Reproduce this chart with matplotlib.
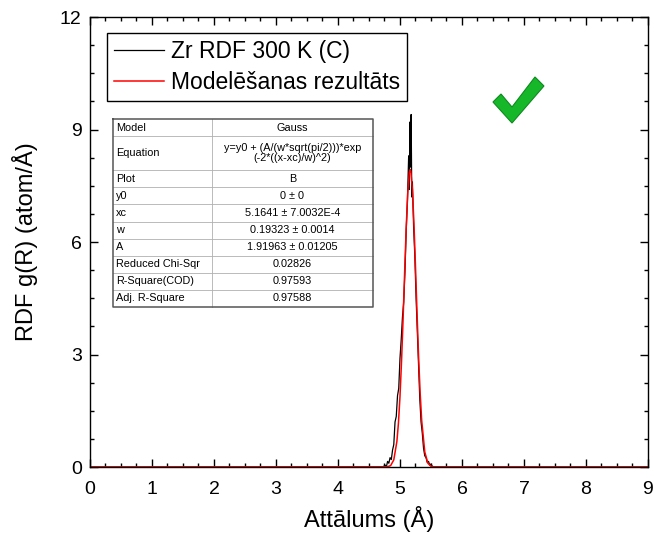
import matplotlib.pyplot as plt
from matplotlib.patches import Polygon
from matplotlib.ticker import MultipleLocator

plt.rcParams['font.family'] = ['Liberation Sans', 'DejaVu Sans']

# RDF data (x in Å, g(R))
rdf_x = [0.0, 4.70, 4.72, 4.74, 4.76, 4.78, 4.80, 4.82, 4.84, 4.86, 4.88, 4.90,
         4.92, 4.94, 4.96, 4.98, 5.00, 5.02, 5.04, 5.06, 5.08, 5.10, 5.12, 5.14,
         5.15, 5.16, 5.17, 5.18, 5.19, 5.20, 5.22, 5.24, 5.26, 5.28, 5.30, 5.32,
         5.34, 5.36, 5.38, 5.40, 5.42, 5.44, 5.46, 5.48, 5.50, 5.52, 5.55, 9.0]
rdf_y = [0.0, 0.0, 0.0, 0.02, 0.05, 0.0, 0.15, 0.10, 0.25, 0.20, 0.45, 0.60,
         1.20, 1.35, 1.90, 2.10, 2.90, 3.40, 4.00, 4.40, 5.20, 6.30, 7.10, 8.30,
         7.40, 9.20, 8.00, 9.40, 7.20, 7.60, 6.40, 5.60, 4.50, 3.60, 2.70, 1.80,
         1.20, 0.90, 0.50, 0.30, 0.25, 0.12, 0.15, 0.05, 0.08, 0.02, 0.0, 0.0]

# fitted curve
fit_x = [0.0, 4.80, 4.85, 4.90, 4.95, 4.975, 5.00, 5.025, 5.05, 5.075, 5.10,
         5.125, 5.15, 5.164, 5.175, 5.20, 5.225, 5.25, 5.275, 5.30, 5.325,
         5.35, 5.40, 5.45, 5.50, 5.55, 9.0]
fit_y = [0.0, 0.007, 0.04, 0.19, 0.68, 1.17, 1.88, 2.82, 3.95, 5.19, 6.37,
         7.31, 7.85, 7.93, 7.88, 7.40, 6.50, 5.34, 4.10, 2.94, 1.98,
         1.24, 0.40, 0.10, 0.02, 0.003, 0.0]

table_rows = [
    ('Model', 'Gauss'),
    ('Equation', 'y=y0 + (A/(w*sqrt(pi/2)))*exp\n(-2*((x-xc)/w)^2)'),
    ('Plot', 'B'),
    ('y0', '0 ± 0'),
    ('xc', '5.1641 ± 7.0032E-4'),
    ('w', '0.19323 ± 0.0014'),
    ('A', '1.91963 ± 0.01205'),
    ('Reduced Chi-Sqr', '0.02826'),
    ('R-Square(COD)', '0.97593'),
    ('Adj. R-Square', '0.97588'),
]
row_units = [1, 2, 1, 1, 1, 1, 1, 1, 1, 1]

fig = plt.figure(figsize=(6.54, 5.33), dpi=100)
ax = fig.add_axes([0.1376, 0.1238, 0.8532, 0.8443])

ax.plot(rdf_x, rdf_y, color='black', lw=0.9, label='Zr RDF 300 K (C)')
ax.plot(fit_x, fit_y, color='red', lw=1.1, label='Modelēšanas rezultāts')

ax.set_xlim(0, 9)
ax.set_ylim(0, 12)
ax.xaxis.set_major_locator(MultipleLocator(1))
ax.xaxis.set_minor_locator(MultipleLocator(0.25))
ax.yaxis.set_major_locator(MultipleLocator(3))
ax.yaxis.set_minor_locator(MultipleLocator(0.75))
ax.tick_params(which='both', direction='in', top=True, right=True,
               width=1, labelsize=14)
ax.tick_params(which='major', length=6)
ax.tick_params(which='minor', length=3)
ax.tick_params(axis='x', which='major', pad=10)
ax.tick_params(axis='y', which='major', pad=6)
for sp in ax.spines.values():
    sp.set_linewidth(1)

ax.set_xlabel('Attālums (Å)', fontsize=17, labelpad=6)
ax.set_ylabel('RDF g(R) (atom/Å)', fontsize=17, labelpad=16)

leg = ax.legend(loc='upper left', bbox_to_anchor=(0.03, 0.965),
                borderaxespad=0, fontsize=16.5, handlelength=2.2,
                fancybox=False, edgecolor='black', framealpha=1,
                borderpad=0.3, labelspacing=0.35, handletextpad=0.3)
leg.get_frame().set_linewidth(1)

# fit parameters table
tx0, tx1, tdiv = 0.0412, 0.507, 0.2186
ty_top, ty_bot = 0.7733, 0.3556
unit = (ty_top - ty_bot) / sum(row_units)
tr = ax.transAxes
y = ty_top
for (k, v), n in zip(table_rows, row_units):
    h = unit * n
    ax.text(tx0 + 0.006, y - h / 2, k, transform=tr, fontsize=7.8,
            ha='left', va='center')
    ax.text((tdiv + tx1) / 2, y - h / 2, v, transform=tr, fontsize=7.8,
            ha='center', va='center', linespacing=1.0)
    y -= h
    if y > ty_bot + 1e-6:
        ax.plot([tx0, tx1], [y, y], transform=tr, color='#b0b0b0', lw=0.6)
ax.plot([tdiv, tdiv], [ty_bot, ty_top], transform=tr, color='#b0b0b0', lw=0.6)
ax.plot([tx0, tx1, tx1, tx0, tx0], [ty_top, ty_top, ty_bot, ty_bot, ty_top],
        transform=tr, color='#555555', lw=1.1)

# green check mark
check = [(0.7222, 0.8111), (0.7366, 0.8289), (0.7563, 0.8000),
         (0.7975, 0.8667), (0.8136, 0.8467), (0.7563, 0.7644)]
ax.add_patch(Polygon(check, closed=True, transform=tr, facecolor='#16b82a',
                     edgecolor='#0e8a1e', lw=0.8))

fig.savefig('out.png', dpi=100)
